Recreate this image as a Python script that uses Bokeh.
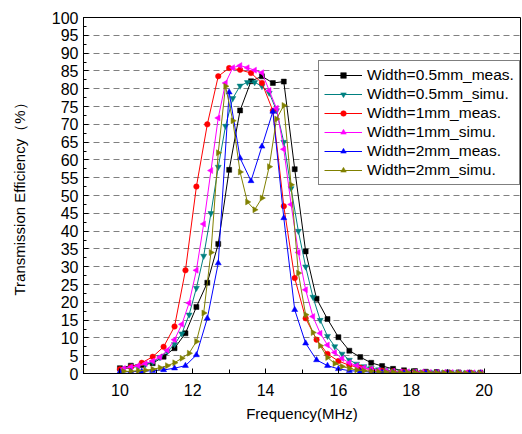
import numpy as np
from bokeh.plotting import figure
from bokeh.models import SingleIntervalTicker, Legend, LegendItem
from bokeh.embed import file_html
from bokeh.resources import INLINE

# ---- data ----
freq_meas = [10.0, 10.3, 10.6, 10.9, 11.2, 11.5, 11.8, 12.1, 12.4, 12.7, 13.0, 13.3,
             13.6, 13.9, 14.2, 14.5, 14.8, 15.1, 15.4, 15.7, 16.0, 16.3, 16.6, 16.9,
             17.2, 17.5, 17.8, 18.1, 18.4, 18.7, 19.0, 19.3, 19.6, 19.9]
freq_simu = [10.1, 10.3, 10.5, 10.7, 10.9, 11.1, 11.3, 11.5, 11.7, 11.9,
             12.1, 12.3, 12.5, 12.7, 12.9, 13.1, 13.3, 13.5, 13.7, 13.9,
             14.1, 14.3, 14.5, 14.7, 14.9, 15.1, 15.3, 15.5, 15.7, 15.9,
             16.1, 16.3, 16.5, 16.7, 16.9, 17.1, 17.3, 17.5, 17.7, 17.9,
             18.1, 18.3, 18.5, 18.7, 18.9, 19.1, 19.3, 19.5, 19.7, 19.9]

w05_meas = [1.5, 2.2, 2.4, 2.9, 4.7, 7.1, 11.3, 18.7, 25.5, 36.4, 57.2, 73.9,
            82.1, 83.5, 81.6, 82.0, 57.4, 34.3, 21.0, 15.3, 10.2, 6.4, 4.6, 3.0,
            2.1, 1.3, 0.9, 0.7, 0.5, 0.4, 0.3, 0.3, 0.2, 0.2]
w1_meas = [1.2, 1.8, 3.0, 4.7, 7.5, 13.2, 29.0, 52.5, 70.0, 83.5, 85.8, 85.3,
           84.4, 81.6, 73.8, 47.0, 26.8, 15.5, 9.5, 5.5, 3.5, 2.3, 1.6, 1.1,
           0.8, 0.6, 0.5, 0.4, 0.3, 0.3, 0.2, 0.2, 0.2, 0.2]
w2_meas = [0.5, 0.5, 0.6, 0.8, 1.0, 1.5, 2.2, 5.2, 15.5, 31.0, 79.0, 60.5,
           54.1, 63.8, 73.6, 43.7, 17.9, 8.5, 3.8, 2.2, 1.3, 0.8, 0.6, 0.4,
           0.3, 0.3, 0.2, 0.2, 0.2, 0.2, 0.2, 0.1, 0.1, 0.1]
w05_simu = [1.3, 1.6, 2.0, 2.5, 3.2, 4.5, 6.2, 8.2, 11.2, 16.5,
            24.0, 33.0, 45.0, 58.0, 69.5, 77.3, 80.8, 81.8, 81.8, 80.7,
            78.8, 73.9, 65.0, 52.0, 40.0, 30.0, 21.5, 15.0, 10.5, 7.6,
            5.5, 3.8, 2.7, 2.0, 1.5, 1.1, 0.9, 0.7, 0.6, 0.5,
            0.5, 0.4, 0.4, 0.3, 0.3, 0.3, 0.3, 0.2, 0.2, 0.2]
w1_simu = [1.4, 1.8, 2.2, 2.8, 3.5, 4.6, 6.5, 9.5, 13.8, 19.8,
           29.0, 42.0, 57.0, 71.8, 81.6, 85.9, 86.5, 85.9, 85.2, 84.5,
           79.5, 74.5, 63.0, 47.5, 34.0, 23.5, 16.0, 11.3, 8.0, 5.9,
           4.2, 3.0, 2.2, 1.6, 1.2, 0.9, 0.7, 0.6, 0.5, 0.5,
           0.4, 0.4, 0.3, 0.3, 0.3, 0.3, 0.2, 0.2, 0.2, 0.2]
w2_simu = [0.6, 0.6, 0.8, 0.9, 1.2, 1.6, 2.2, 3.0, 4.3, 5.7,
           9.0, 17.0, 34.0, 62.0, 80.7, 71.0, 56.6, 48.2, 46.0, 49.3,
           58.1, 71.5, 75.3, 53.0, 28.2, 16.5, 11.5, 7.8, 4.5, 2.8,
           2.0, 1.4, 1.0, 0.8, 0.6, 0.5, 0.4, 0.4, 0.3, 0.3,
           0.3, 0.2, 0.2, 0.2, 0.2, 0.2, 0.2, 0.1, 0.1, 0.1]

labels = ["Width=0.5mm_meas.", "Width=0.5mm_simu.", "Width=1mm_meas.",
          "Width=1mm_simu.", "Width=2mm_meas.", "Width=2mm_simu."]
colors = ["#000000", "#008080", "#FF0000", "#FF00FF", "#0000FF", "#808000"]

FONT = "Liberation Sans"
W, H = 522, 434
BL, BR, BT, BB = 83, 2, 17, 61

p = figure(width=W, height=H, x_range=(9, 21), y_range=(0, 100),
           output_backend="svg", toolbar_location=None,
           min_border_left=BL, min_border_right=BR, min_border_top=BT, min_border_bottom=BB,
           background_fill_color="white", border_fill_color="white")
p.outline_line_color = "black"
p.outline_line_width = 1

p.xaxis.ticker = SingleIntervalTicker(interval=2, num_minor_ticks=2)
p.yaxis.ticker = SingleIntervalTicker(interval=5, num_minor_ticks=2)
for ax in (p.xaxis, p.yaxis):
    ax.axis_line_color = "black"
    ax.major_tick_line_color = "black"
    ax.minor_tick_line_color = "black"
    ax.major_tick_in = 5
    ax.major_tick_out = 0
    ax.minor_tick_out = 0
    ax.major_label_text_font = FONT
    ax.major_label_text_font_size = "16px"
    ax.major_label_text_color = "black"
    ax.axis_label_text_font = FONT
    ax.axis_label_text_font_size = "15px"
    ax.axis_label_text_font_style = "normal"
    ax.axis_label_text_color = "black"
p.xaxis.minor_tick_in = 4
p.yaxis.minor_tick_in = 3
p.xaxis.axis_label = "Frequency(MHz)"
p.yaxis.axis_label = "Transmission Efficiency（%）"
p.xaxis.major_label_standoff = 10
p.xaxis.axis_label_standoff = 6
p.yaxis.major_label_standoff = 5
p.yaxis.axis_label_standoff = 21

p.xgrid.visible = False
p.ygrid.grid_line_color = "#808080"
p.ygrid.grid_line_dash = "6 4"
p.ygrid.grid_line_width = 1

series = [
    (freq_meas, w05_meas, "square", 0.0, 5),
    (freq_simu, w05_simu, "inverted_triangle", 0.0, 6),
    (freq_meas, w1_meas, "circle", 0.0, 5.5),
    (freq_simu, w1_simu, "triangle", np.pi / 2, 6),
    (freq_meas, w2_meas, "triangle", 0.0, 6),
    (freq_simu, w2_simu, "triangle", -np.pi / 2, 6),
]

items = []
for (xs, ys, mk, ang, sz), lab, col in zip(series, labels, colors):
    lr = p.line(xs, ys, line_color=col, line_width=1)
    sr = p.scatter(xs, ys, marker=mk, angle=ang, size=sz,
                   fill_color=col, line_color=col, line_width=0.5)
    items.append(LegendItem(label=lab, renderers=[lr, sr]))

fw = W - BL - BR
fh = H - BT - BB
LW, LH = 202, 125
legend = Legend(items=items, location=(fw - LW, fh - 43 - LH))
legend.label_text_font = FONT
legend.label_text_font_size = "15.5px"
legend.label_text_color = "black"
legend.glyph_width = 38
legend.glyph_height = 14
legend.label_height = 18
legend.label_standoff = 5
legend.spacing = 1
legend.padding = 5
legend.margin = 0
legend.border_line_color = "black"
legend.border_line_width = 1
legend.background_fill_color = "white"
legend.background_fill_alpha = 1.0
p.add_layout(legend, "center")

open("out.html", "w").write(file_html(p, INLINE))
